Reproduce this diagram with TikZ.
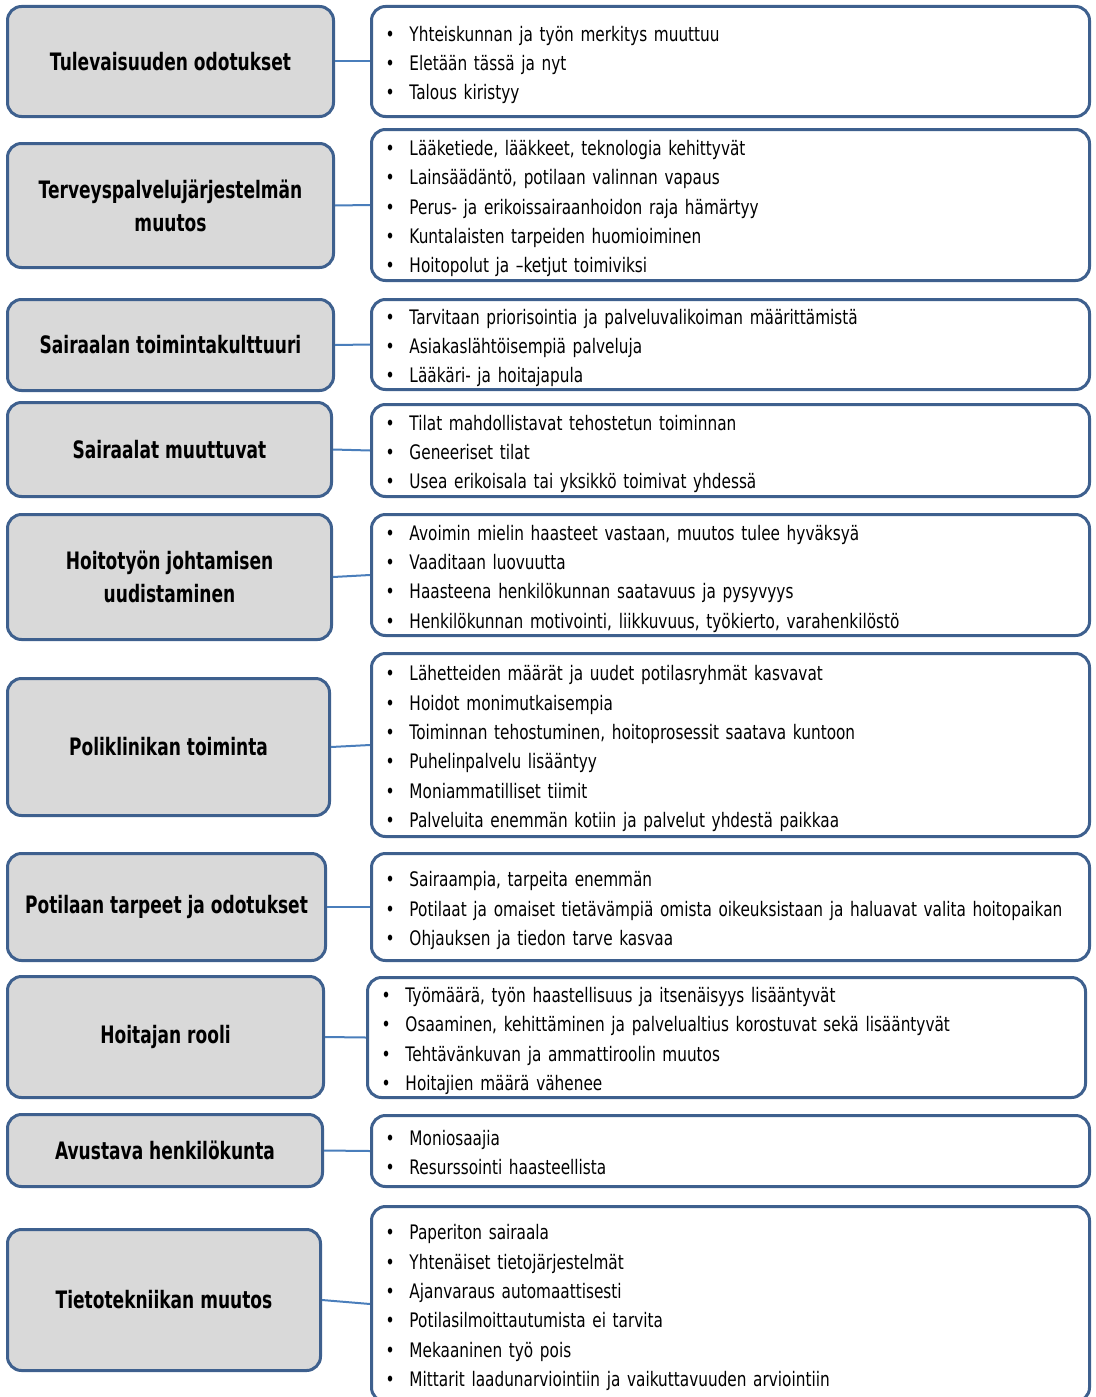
\documentclass[tikz,border=0pt]{standalone}
\usepackage{fontspec}
\newfontfamily\itemfont[FakeStretch=0.765]{DejaVu Sans}
\newfontfamily\headfont[FakeStretch=0.71]{DejaVu Sans}
\definecolor{frame}{RGB}{62,96,142}
\definecolor{headfill}{RGB}{217,217,217}
\definecolor{linkblue}{RGB}{74,126,187}
% one bullet line of a list box
\newcommand\itm[1]{\makebox[24pt][l]{\textbullet}#1}
% fixed top and bottom extents so every list sits alike in its box
\newcommand\topstrut{\rule{0pt}{23.2pt}}
\newcommand\botstrut{\rule[-5pt]{0pt}{5pt}}
\tikzset{
  headbox/.style={draw=frame, line width=3pt, fill=headfill, rounded corners=14pt,
    align=center, inner sep=0pt, text=black,
    font=\headfont\bfseries\fontsize{24}{33}\selectfont},
  itembox/.style={draw=frame, line width=3pt, fill=white, rounded corners=14pt,
    align=left, inner xsep=14pt, inner ysep=0pt, text width=690pt, minimum width=718pt,
    font=\itemfont\fontsize{20}{29.3}\selectfont},
  link/.style={draw=linkblue, line width=2pt}
}
\begin{document}
\begin{tikzpicture}[x=1pt,y=-1pt]
\useasboundingbox (0,0) rectangle (1095,1397);
\clip (0,0) rectangle (1095,1397);

% themes on the left
\node[headbox, minimum width=326pt, minimum height=110pt] (l1) at (170.5,61.5) {Tulevaisuuden odotukset};
\node[headbox, minimum width=326pt, minimum height=124pt] (l2) at (170.5,205.5) {Terveyspalvelujärjestelmän\\muutos};
\node[headbox, minimum width=326pt, minimum height=91pt] (l3) at (170.5,345) {Sairaalan toimintakulttuuri};
\node[headbox, minimum width=324pt, minimum height=94pt] (l4) at (169.5,449.5) {Sairaalat muuttuvat};
\node[headbox, minimum width=324pt, minimum height=125pt] (l5) at (169.5,577) {Hoitotyön johtamisen\\uudistaminen};
\node[headbox, minimum width=322pt, minimum height=137pt] (l6) at (168.5,747) {Poliklinikan toiminta};
\node[headbox, minimum width=318pt, minimum height=107pt] (l7) at (166.5,907) {Potilaan tarpeet ja odotukset};
\node[headbox, minimum width=316pt, minimum height=121pt] (l8) at (165.5,1037) {Hoitajan rooli};
\node[headbox, minimum width=315pt, minimum height=72pt] (l9) at (165,1150.5) {Avustava henkilökunta};
\node[headbox, minimum width=313pt, minimum height=141pt] (l10) at (164,1300) {Tietotekniikan muutos};

% bullet lists on the right
\node[itembox, minimum height=110pt] (r1) at (730.5,61.5) {\topstrut%
\itm{Yhteiskunnan ja työn merkitys muuttuu}\\
\itm{Eletään tässä ja nyt}\\
\itm{Talous kiristyy}\botstrut};
\node[itembox, minimum height=151pt] (r2) at (730.5,205) {\topstrut%
\itm{Lääketiede, lääkkeet, teknologia kehittyvät}\\
\itm{Lainsäädäntö, potilaan valinnan vapaus}\\
\itm{Perus- ja erikoissairaanhoidon raja hämärtyy}\\
\itm{Kuntalaisten tarpeiden huomioiminen}\\
\itm{Hoitopolut ja –ketjut toimiviksi}\botstrut};
\node[itembox, minimum height=90pt] (r3) at (730.5,344.5) {\topstrut%
\itm{Tarvitaan priorisointia ja palveluvalikoiman määrittämistä}\\
\itm{Asiakaslähtöisempiä palveluja}\\
\itm{Lääkäri- ja hoitajapula}\botstrut};
\node[itembox, minimum height=92pt] (r4) at (730.5,450.5) {\topstrut%
\itm{Tilat mahdollistavat tehostetun toiminnan}\\
\itm{Geneeriset tilat}\\
\itm{Usea erikoisala tai yksikkö toimivat yhdessä}\botstrut};
\node[itembox, minimum height=121pt] (r5) at (730.5,575) {\topstrut%
\itm{Avoimin mielin haasteet vastaan, muutos tulee hyväksyä}\\
\itm{Vaaditaan luovuutta}\\
\itm{Haasteena henkilökunnan saatavuus ja pysyvyys}\\
\itm{Henkilökunnan motivointi, liikkuvuus, työkierto, varahenkilöstö}\botstrut};
\node[itembox, minimum height=183pt] (r6) at (730.5,745) {\topstrut%
\itm{Lähetteiden määrät ja uudet potilasryhmät kasvavat}\\
\itm{Hoidot monimutkaisempia}\\
\itm{Toiminnan tehostuminen, hoitoprosessit saatava kuntoon}\\
\itm{Puhelinpalvelu lisääntyy}\\
\itm{Moniammatilliset tiimit}\\
\itm{Palveluita enemmän kotiin ja palvelut yhdestä paikkaa}\botstrut};
\node[itembox, minimum height=107pt] (r7) at (730.5,907) {\topstrut%
\itm{Sairaampia, tarpeita enemmän}\\
\itm{Potilaat ja omaiset tietävämpiä omista oikeuksistaan ja haluavat valita hoitopaikan}\\
\itm{Ohjauksen ja tiedon tarve kasvaa}\botstrut};
\node[itembox, minimum height=120pt] (r8) at (726.5,1037.5) {\topstrut%
\itm{Työmäärä, työn haastellisuus ja itsenäisyys lisääntyvät}\\
\itm{Osaaminen, kehittäminen ja palvelualtius korostuvat sekä lisääntyvät}\\
\itm{Tehtävänkuvan ja ammattiroolin muutos}\\
\itm{Hoitajien määrä vähenee}\botstrut};
\node[itembox, minimum height=71pt] (r9) at (730.5,1151) {\topstrut%
\itm{Moniosaajia}\\
\itm{Resurssointi haasteellista}\botstrut};
\node[itembox, minimum height=195pt] (r10) at (730.5,1304) {\topstrut%
\itm{Paperiton sairaala}\\
\itm{Yhtenäiset tietojärjestelmät}\\
\itm{Ajanvaraus automaattisesti}\\
\itm{Potilasilmoittautumista ei tarvita}\\
\itm{Mekaaninen työ pois}\\
\itm{Mittarit laadunarviointiin ja vaikuttavuuden arviointiin}\botstrut};

% connectors
\foreach \i in {1,...,10}
  \draw[link] (l\i.east) -- (r\i.west);
\end{tikzpicture}
\end{document}
